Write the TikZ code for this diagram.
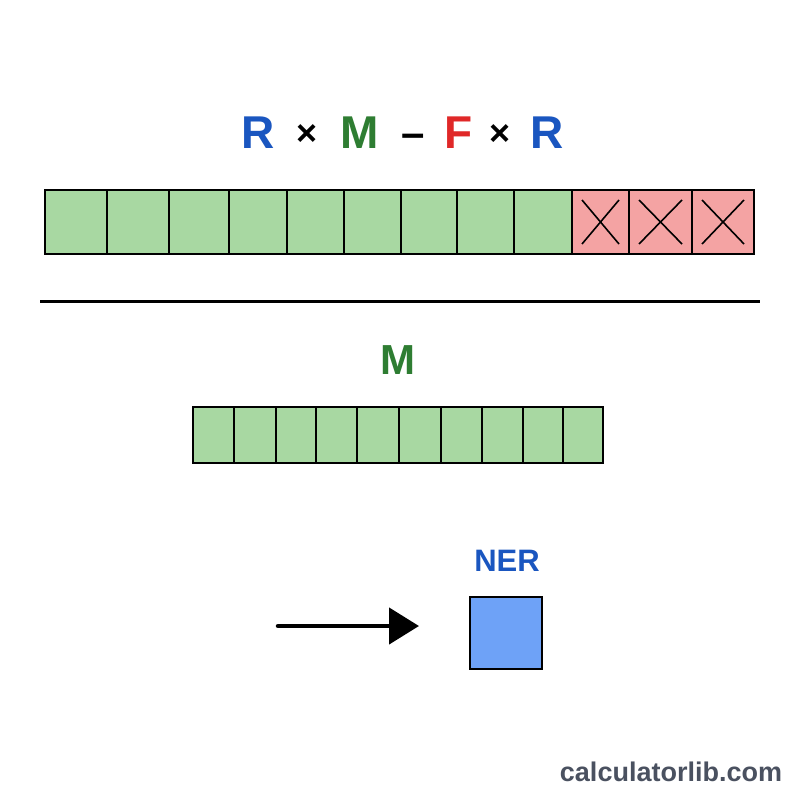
\documentclass[tikz,border=0pt]{standalone}
\usepackage{fontspec}
\setmainfont{Liberation Sans}
\usetikzlibrary{arrows.meta}
\definecolor{cellgreen}{HTML}{A8D8A2}
\definecolor{cellred}{HTML}{F4A3A3}
\definecolor{boxblue}{HTML}{6EA2F7}
\definecolor{txtblue}{HTML}{1A56C0}
\definecolor{txtgreen}{HTML}{2E7D32}
\definecolor{txtred}{HTML}{E02828}
\definecolor{txtgray}{HTML}{4A5160}
\tikzset{
  cellbox/.style={draw=black, line width=2pt},
  lbl/.style={font=\bfseries, inner sep=0pt, anchor=center},
}
\begin{document}
\begin{tikzpicture}[x=1pt,y=-1pt]
\useasboundingbox[fill=white] (0,0) rectangle (800,800);
% title
\node[lbl, text=txtblue, font=\bfseries\fontsize{46}{46}\selectfont] (r1) at (258,133) {R};
\node[lbl, font=\bfseries\fontsize{36}{36}\selectfont] (t1) at (307,135) {×};
\node[lbl, text=txtgreen, font=\bfseries\fontsize{46}{46}\selectfont] (m1) at (360,133) {M};
\node[lbl, font=\bfseries\fontsize{42}{42}\selectfont] (d1) at (413,141) {–};
\node[lbl, text=txtred, font=\bfseries\fontsize{46}{46}\selectfont] (f1) at (459,133) {F};
\node[lbl, font=\bfseries\fontsize{36}{36}\selectfont] (t2) at (500,135) {×};
\node[lbl, text=txtblue, font=\bfseries\fontsize{46}{46}\selectfont] (r2) at (547,133) {R};
% top bar
\foreach \a/\b in {45/107,107/169,169/229,229/287,287/344,344/401,401/457,457/514,514/572}{
  \filldraw[cellbox, fill=cellgreen] (\a,190) rectangle (\b,254);
}
\foreach \a/\b in {572/629,629/692,692/754}{
  \filldraw[cellbox, fill=cellred] (\a,190) rectangle (\b,254);
  \draw[line width=1.6pt] (\a+10,200) -- (\b-10,244);
  \draw[line width=1.6pt] (\a+10,244) -- (\b-10,200);
}
% divider
\draw[line width=3pt] (40,301) -- (760,301);
% M label
\node[lbl, text=txtgreen, font=\bfseries\fontsize{42}{42}\selectfont] (m2) at (398,360) {M};
% middle bar
\foreach \a/\b in {193/234,234/276,276/316,316/357,357/399,399/441,441/482,482/523,523/563,563/603}{
  \filldraw[cellbox, fill=cellgreen] (\a,407) rectangle (\b,463);
}
% arrow and NER box
\node[lbl, text=txtblue, font=\bfseries\fontsize{31}{31}\selectfont] (ner) at (507,561) {NER};
\node[draw=black, line width=2pt, fill=boxblue, minimum width=72pt, minimum height=72pt, inner sep=0pt] (nbox) at (506,633) {};
\coordinate (as) at (278,626);
\coordinate (ae) at (419,626);
\draw[line width=4.5pt, line cap=round, -{Triangle[length=30pt,width=36pt]}] (as) -- (ae);
% footer
\node[lbl, text=txtgray, font=\bfseries\fontsize{27}{27}\selectfont] (ft) at (671,772) {calculatorlib.com};
\end{tikzpicture}
\end{document}
